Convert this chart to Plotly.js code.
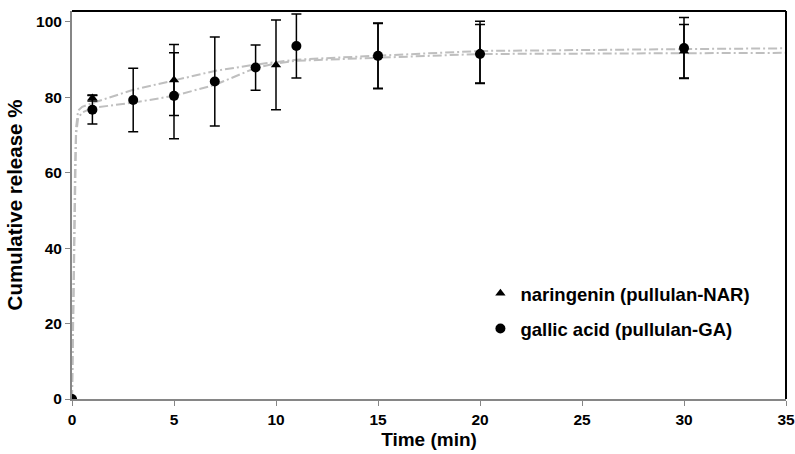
<!DOCTYPE html>
<html>
<head>
<meta charset="utf-8">
<script src="https://cdn.plot.ly/plotly-3.0.1.min.js"></script>
<style>html,body{margin:0;padding:0;background:#fff;}#chart{width:795px;height:454px;}</style>
</head>
<body>
<div id="chart"></div>
<script>
// Measured points
const narTime = [0, 1, 5, 10, 15, 20, 30];
const narRelease = [0, 79.8, 84.6, 88.6, 91.0, 92.0, 92.2];
const narError = [0, 0.8, 9.4, 11.9, 8.6, 8.2, 7.1];

const gaTime = [0, 1, 3, 5, 7, 9, 11, 15, 20, 30];
const gaRelease = [0, 76.7, 79.3, 80.4, 84.2, 87.9, 93.6, 91.0, 91.5, 93.1];
const gaError = [0, 3.8, 8.4, 11.4, 11.8, 6.0, 8.5, 8.7, 7.8, 8.1];

// Fitted curves
const narFitTime = [0, 0.05, 0.1, 0.15, 0.2, 0.3, 0.5, 1, 3, 5, 7, 9, 11, 14, 20, 30, 35];
const narFitRelease = [0, 22, 45, 62, 72, 76.5, 77.5, 78.5, 82, 84.6, 87, 88.7, 90, 90.8, 92.3, 92.8, 93];
const gaFitTime = [0, 0.05, 0.1, 0.15, 0.2, 0.3, 0.5, 1, 3, 5, 7, 9, 10, 11, 14, 20, 30, 35];
const gaFitRelease = [0, 20, 42, 60, 70, 74.5, 76, 77.2, 78.6, 80.4, 83.3, 87.8, 89, 89.7, 90.3, 91.5, 91.7, 91.8];

const xTicks = [0, 5, 10, 15, 20, 25, 30, 35];
const yTicks = [0, 20, 40, 60, 80, 100];

const FONT = 'Liberation Sans, Arial, sans-serif';
const fitLine = {color: '#BFBFBF', width: 2, dash: '9px,3px,2px,3px'};
const errStyle = {type: 'data', visible: true, color: '#000', thickness: 1.5, width: 5};

const traces = [
  {x: narFitTime, y: narFitRelease, mode: 'lines', line: fitLine, showlegend: false, hoverinfo: 'skip'},
  {x: gaFitTime, y: gaFitRelease, mode: 'lines', line: fitLine, showlegend: false, hoverinfo: 'skip'},
  {x: narTime, y: narRelease, name: 'naringenin (pullulan-NAR)', mode: 'markers',
   marker: {symbol: 'triangle-up', size: 9, color: '#000'},
   error_y: Object.assign({array: narError}, errStyle), legendgroup: 'a'},
  {x: gaTime, y: gaRelease, name: 'gallic acid (pullulan-GA)', mode: 'markers',
   marker: {symbol: 'circle', size: 10, color: '#000'},
   error_y: Object.assign({array: gaError}, errStyle), legendgroup: 'b'}
];

const layout = {
  width: 795, height: 454,
  margin: {l: 72, r: 9, t: 11, b: 55},
  paper_bgcolor: '#fff', plot_bgcolor: '#fff',
  font: {family: FONT, color: '#000'},
  xaxis: {
    range: [0, 35], tickvals: xTicks, ticktext: xTicks.map(String),
    showgrid: false, zeroline: false, showline: true, linecolor: '#868686', linewidth: 2,
    ticks: 'outside', ticklen: 5, tickcolor: '#868686', tickwidth: 1,
    tickfont: {size: 15.5, family: FONT, weight: 'bold'},
    title: {text: '<b>Time (min)</b>', font: {size: 19}, standoff: 6}
  },
  yaxis: {
    range: [0, 102.9], tickvals: yTicks, ticktext: yTicks.map(String),
    showgrid: false, zeroline: false, showline: true, linecolor: '#868686', linewidth: 2,
    ticks: 'outside', ticklen: 5, tickcolor: '#868686', tickwidth: 1,
    tickfont: {size: 15.5, family: FONT, weight: 'bold'},
    title: {text: '<b>Cumulative release %</b>', font: {size: 20.5}, standoff: 8}
  },
  shapes: [
    {type: 'line', xref: 'paper', yref: 'paper', x0: 0, x1: 1, y0: 1, y1: 1, line: {color: '#000', width: 2}},
    {type: 'line', xref: 'paper', yref: 'paper', x0: 1, x1: 1, y0: 0, y1: 1, line: {color: '#000', width: 2}}
  ],
  legend: {
    x: 0.572, y: 0.32, xanchor: 'left', yanchor: 'top',
    bgcolor: 'rgba(0,0,0,0)', borderwidth: 0,
    font: {size: 18.5, family: FONT, weight: 'bold'},
    tracegroupgap: 8, itemwidth: 30
  },
  showlegend: true
};

Plotly.newPlot('chart', traces, layout, {displayModeBar: false, staticPlot: true});
</script>
</body>
</html>
